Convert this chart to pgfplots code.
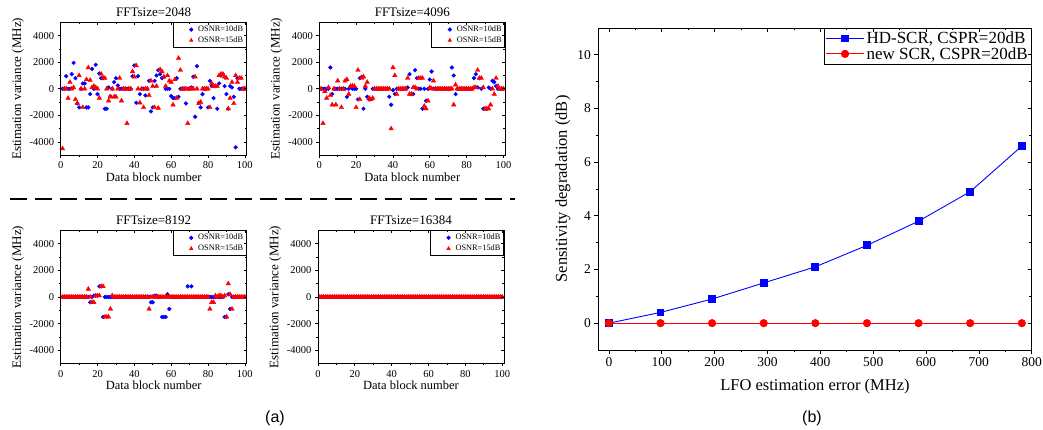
\documentclass[border=0pt]{standalone}
\usepackage{fontspec}
\setmainfont{Liberation Serif}
\newfontfamily\arial{Liberation Sans}
\usepackage{pgfplots}
\pgfplotsset{compat=1.18}

\definecolor{pblue}{rgb}{0,0,1}
\definecolor{pred}{rgb}{1,0,0}

\pgfplotsset{
  common/.style={
    scale only axis,
    axis line style={line width=0.8pt},
    every tick/.style={black, line width=0.7pt},
    /pgf/number format/assume math mode=true,
    /pgf/number format/1000 sep={},
    scaled ticks=false,
    minor x tick num=1, minor y tick num=1,
    tick pos=left, tick align=outside,
  },
  panel/.style={
    common,
    width=186pt, height=133pt,
    xmin=0, xmax=101, ymin=-5000, ymax=5000,
    xtick={0,20,...,100}, ytick={-4000,-2000,0,2000,4000},
    major tick length=3pt, minor tick length=2pt,
    ticklabel style={font=\fontsize{10.5}{11}\selectfont},
    xlabel={Data block number},
    ylabel={Estimation variance (MHz)},
    xlabel style={font=\fontsize{12.5}{14}\selectfont, yshift=3pt},
    ylabel style={font=\fontsize{13}{14}\selectfont, yshift=-1pt},
    title style={font=\fontsize{13}{14}\selectfont, yshift=-4pt},
    legend style={at={(rel axis cs:1,1)}, anchor=north east, draw=black,
      line width=0.9pt, font=\fontsize{8.3}{9}\selectfont,
      inner sep=1.2pt, row sep=-0.5pt, cells={anchor=west}},
    legend cell align=left,
    legend image code/.code={%
      \path[draw=none, fill=none] (0pt,0pt) -- (22pt,0pt);
      \path[#1, only marks, mark size=1.6pt] plot coordinates {(17pt,0pt)};},
  },
  mirror/.style={
    tick pos=right, tick align=inside,
    xticklabels={}, yticklabels={},
    xlabel={}, ylabel={}, title={},
  },
  bl/.style={draw=pblue, fill=pblue, mark=*, only marks, mark size=1.9pt},
  rd/.style={draw=pred, fill=pred, mark=triangle*, only marks, mark size=2.6pt},
}

\begin{document}
\begin{tikzpicture}[x=1pt,y=1pt]
\useasboundingbox (0,0) rectangle (1043,430);

% ---------------- FFTsize=2048
\begin{axis}[panel, at={(60.7pt,274.7pt)}, title={FFTsize=2048}]
\addplot[bl] coordinates {
(1,0)(2,0)(3,950)(4,0)(5,0)(6,1100)(7,1950)(8,800)(9,-1100)(10,-1400)
(11,0)(12,400)(13,400)(14,-1400)(15,-1400)(16,-400)(17,1500)(18,0)(19,1800)(20,-400)
(21,1150)(22,800)(23,800)(24,-1500)(25,-1500)(26,100)(27,-550)(28,0)(29,500)(30,800)
(31,250)(32,0)(33,0)(34,0)(35,0)(36,0)(37,0)(38,0)(39,950)(40,1750)
(41,-1050)(42,950)(43,-400)(44,0)(45,0)(46,-500)(47,0)(48,600)(49,-1700)(50,-1400)
(51,600)(52,1000)(53,1400)(54,1100)(55,800)(56,900)(57,0)(58,0)(59,0)(60,-550)
(61,-700)(62,-700)(63,800)(64,-600)(65,0)(66,0)(67,0)(68,-1100)(69,0)(70,0)
(71,100)(72,900)(73,-2100)(74,1700)(75,-1050)(76,-1400)(77,-400)(78,0)(79,0)(80,-1400)
(81,600)(82,200)(83,-700)(84,200)(85,-1500)(86,400)(87,1000)(88,1100)(89,200)(90,-400)
(91,-1500)(92,200)(93,100)(94,-600)(95,-4400)(96,800)(97,0)(98,0)(99,0)(100,0)
};
\addlegendentry{OSNR=10dB}
\addplot[rd] coordinates {
(1,-4500)(2,0)(3,0)(4,-700)(5,500)(6,0)(7,100)(8,-800)(9,-1100)(10,1000)
(11,0)(12,-1400)(13,0)(14,700)(15,1600)(16,650)(17,100)(18,200)(19,100)(20,0)
(21,-700)(22,1100)(23,800)(24,800)(25,0)(26,-900)(27,-600)(28,0)(29,-600)(30,-600)
(31,0)(32,800)(33,-900)(34,0)(35,0)(36,-2600)(37,0)(38,0)(39,1300)(40,900)
(41,1750)(42,0)(43,-1050)(44,0)(45,-1400)(46,0)(47,0)(48,-500)(49,600)(50,200)
(51,-1400)(52,200)(53,-1450)(54,1450)(55,1300)(56,900)(57,200)(58,1000)(59,600)(60,500)
(61,-1200)(62,700)(63,-700)(64,2300)(65,1400)(66,0)(67,0)(68,0)(69,-2600)(70,0)
(71,0)(72,0)(73,900)(74,0)(75,-1100)(76,-1000)(77,0)(78,0)(79,0)(80,0)
(81,-1400)(82,400)(83,200)(84,200)(85,200)(86,1000)(87,1100)(88,1100)(89,900)(90,800)
(91,-1500)(92,-700)(93,500)(94,-1100)(95,1000)(96,500)(97,800)(98,800)(99,0)(100,0)
};
\addlegendentry{OSNR=15dB}
\end{axis}
\begin{axis}[panel, mirror, at={(60.7pt,274.7pt)}]
\end{axis}

% ---------------- FFTsize=4096
\begin{axis}[panel, at={(319.3pt,274.7pt)}, title={FFTsize=4096}]
\addplot[bl] coordinates {
(1,0)(2,0)(3,0)(4,0)(5,0)(6,1600)(7,-400)(8,0)(9,0)(10,0)
(11,0)(12,0)(13,0)(14,0)(15,-600)(16,0)(17,200)(18,0)(19,0)(20,0)
(21,-800)(22,800)(23,900)(24,-1500)(25,0)(26,-600)(27,-800)(28,-800)(29,0)(30,0)
(31,0)(32,0)(33,0)(34,0)(35,0)(36,0)(37,0)(38,-600)(39,-1200)(40,-100)
(41,-400)(42,0)(43,0)(44,0)(45,0)(46,0)(47,0)(48,100)(49,1100)(50,-400)
(51,-400)(52,1400)(53,800)(54,0)(55,0)(56,-1500)(57,0)(58,-900)(59,0)(60,700)
(61,1300)(62,0)(63,0)(64,0)(65,0)(66,0)(67,0)(68,0)(69,0)(70,0)
(71,0)(72,1600)(73,1000)(74,-400)(75,0)(76,0)(77,0)(78,0)(79,0)(80,0)
(81,0)(82,0)(83,0)(84,800)(85,1100)(86,100)(87,800)(88,0)(89,-1500)(90,-1500)
(91,-1500)(92,100)(93,0)(94,600)(95,500)(96,200)(97,0)(98,0)(99,0)(100,0)
};
\addlegendentry{OSNR=10dB}
\addplot[rd] coordinates {
(1,0)(2,-2600)(3,-200)(4,-700)(5,100)(6,-500)(7,-1200)(8,0)(9,-1200)(10,600)
(11,0)(12,-1400)(13,0)(14,600)(15,700)(16,-400)(17,200)(18,200)(19,200)(20,-1400)
(21,1400)(22,-800)(23,800)(24,900)(25,200)(26,500)(27,-700)(28,-800)(29,-700)(30,0)
(31,0)(32,0)(33,0)(34,0)(35,0)(36,0)(37,0)(38,0)(39,-3000)(40,1600)
(41,1000)(42,-400)(43,0)(44,0)(45,0)(46,0)(47,0)(48,800)(49,-400)(50,-400)
(51,100)(52,100)(53,0)(54,800)(55,800)(56,800)(57,-1300)(58,-1500)(59,-900)(60,100)
(61,0)(62,600)(63,0)(64,0)(65,0)(66,0)(67,0)(68,0)(69,0)(70,0)
(71,0)(72,0)(73,-1200)(74,300)(75,0)(76,0)(77,0)(78,0)(79,0)(80,0)
(81,0)(82,0)(83,0)(84,100)(85,100)(86,1400)(87,800)(88,800)(89,100)(90,-1500)
(91,-1500)(92,-1500)(93,-1200)(94,0)(95,-400)(96,800)(97,200)(98,0)(99,0)(100,0)
};
\addlegendentry{OSNR=15dB}
\end{axis}
\begin{axis}[panel, mirror, at={(319.3pt,274.7pt)}]
\end{axis}

% ---------------- FFTsize=8192
\begin{axis}[panel, at={(60.7pt,66.5pt)}, title={FFTsize=8192}]
\addplot[bl] coordinates {
(1,0)(2,0)(3,0)(4,0)(5,0)(6,0)(7,0)(8,0)(9,0)(10,0)
(11,0)(12,0)(13,0)(14,0)(15,0)(16,-400)(17,0)(18,100)(19,100)(20,100)
(21,800)(22,800)(23,-1500)(24,0)(25,0)(26,0)(27,0)(28,0)(29,0)(30,0)
(31,0)(32,0)(33,0)(34,0)(35,0)(36,0)(37,0)(38,0)(39,0)(40,0)
(41,0)(42,0)(43,0)(44,0)(45,0)(46,0)(47,0)(48,0)(49,-400)(50,-400)
(51,100)(52,100)(53,0)(54,0)(55,-1500)(56,-1500)(57,-1500)(58,200)(59,-900)(60,0)
(61,0)(62,0)(63,0)(64,0)(65,0)(66,0)(67,0)(68,0)(69,800)(70,0)
(71,800)(72,0)(73,0)(74,0)(75,0)(76,0)(77,0)(78,0)(79,0)(80,0)
(81,0)(82,0)(83,0)(84,0)(85,0)(86,0)(87,0)(88,0)(89,-1500)(90,-1500)
(91,200)(92,-900)(93,0)(94,0)(95,0)(96,0)(97,0)(98,0)(99,0)(100,0)
};
\addlegendentry{OSNR=10dB}
\addplot[rd] coordinates {
(1,0)(2,0)(3,0)(4,0)(5,0)(6,0)(7,0)(8,0)(9,0)(10,0)
(11,0)(12,0)(13,0)(14,0)(15,600)(16,0)(17,-400)(18,-400)(19,100)(20,100)
(21,100)(22,800)(23,800)(24,-1500)(25,-1500)(26,-1500)(27,-900)(28,100)(29,0)(30,0)
(31,0)(32,0)(33,0)(34,0)(35,0)(36,0)(37,0)(38,0)(39,0)(40,0)
(41,0)(42,0)(43,0)(44,0)(45,0)(46,0)(47,0)(48,-900)(49,0)(50,0)
(51,0)(52,0)(53,0)(54,0)(55,0)(56,0)(57,0)(58,0)(59,0)(60,0)
(61,0)(62,0)(63,0)(64,0)(65,0)(66,0)(67,0)(68,0)(69,0)(70,0)
(71,0)(72,0)(73,0)(74,0)(75,0)(76,0)(77,0)(78,0)(79,0)(80,0)
(81,-900)(82,-400)(83,-400)(84,100)(85,0)(86,100)(87,100)(88,0)(89,100)(90,-1500)
(91,1000)(92,200)(93,-900)(94,0)(95,0)(96,0)(97,0)(98,0)(99,0)(100,0)
};
\addlegendentry{OSNR=15dB}
\end{axis}
\begin{axis}[panel, mirror, at={(60.7pt,66.5pt)}]
\end{axis}

% ---------------- FFTsize=16384
\begin{axis}[panel, at={(318pt,66.5pt)}, title={FFTsize=16384}]
\addplot[bl] coordinates {
(1,0)(2,0)(3,0)(4,0)(5,0)(6,0)(7,0)(8,0)(9,0)(10,0)
(11,0)(12,0)(13,0)(14,0)(15,0)(16,0)(17,0)(18,0)(19,0)(20,0)
(21,0)(22,0)(23,0)(24,0)(25,0)(26,0)(27,0)(28,0)(29,0)(30,0)
(31,0)(32,0)(33,0)(34,0)(35,0)(36,0)(37,0)(38,0)(39,0)(40,0)
(41,0)(42,0)(43,0)(44,0)(45,0)(46,0)(47,0)(48,0)(49,0)(50,0)
(51,0)(52,0)(53,0)(54,0)(55,0)(56,0)(57,0)(58,0)(59,0)(60,0)
(61,0)(62,0)(63,0)(64,0)(65,0)(66,0)(67,0)(68,0)(69,0)(70,0)
(71,0)(72,0)(73,0)(74,0)(75,0)(76,0)(77,0)(78,0)(79,0)(80,0)
(81,0)(82,0)(83,0)(84,0)(85,0)(86,0)(87,0)(88,0)(89,0)(90,0)
(91,0)(92,0)(93,0)(94,0)(95,0)(96,0)(97,0)(98,0)(99,0)(100,0)
};
\addlegendentry{OSNR=10dB}
\addplot[rd] coordinates {
(1,0)(2,0)(3,0)(4,0)(5,0)(6,0)(7,0)(8,0)(9,0)(10,0)
(11,0)(12,0)(13,0)(14,0)(15,0)(16,0)(17,0)(18,0)(19,0)(20,0)
(21,0)(22,0)(23,0)(24,0)(25,0)(26,0)(27,0)(28,0)(29,0)(30,0)
(31,0)(32,0)(33,0)(34,0)(35,0)(36,0)(37,0)(38,0)(39,0)(40,0)
(41,0)(42,0)(43,0)(44,0)(45,0)(46,0)(47,0)(48,0)(49,0)(50,0)
(51,0)(52,0)(53,0)(54,0)(55,0)(56,0)(57,0)(58,0)(59,0)(60,0)
(61,0)(62,0)(63,0)(64,0)(65,0)(66,0)(67,0)(68,0)(69,0)(70,0)
(71,0)(72,0)(73,0)(74,0)(75,0)(76,0)(77,0)(78,0)(79,0)(80,0)
(81,0)(82,0)(83,0)(84,0)(85,0)(86,0)(87,0)(88,0)(89,0)(90,0)
(91,0)(92,0)(93,0)(94,0)(95,0)(96,0)(97,0)(98,0)(99,0)(100,0)
};
\addlegendentry{OSNR=15dB}
\end{axis}
\begin{axis}[panel, mirror, at={(318pt,66.5pt)}]
\end{axis}

% ---------------- right panel (b)
\begin{axis}[common, at={(598.3pt,80pt)},
    width=433.4pt, height=322pt,
    xmin=-20, xmax=800, ymin=-1, ymax=11,
    xtick={0,100,...,800}, ytick={0,2,...,10},
    major tick length=4pt, minor tick length=2.5pt,
    ticklabel style={font=\fontsize{13.5}{15}\selectfont},
    xlabel={LFO estimation error (MHz)},
    ylabel={Sensitivity degradation (dB)},
    label style={font=\fontsize{16.5}{18}\selectfont},
    xlabel style={yshift=-6pt},
    legend style={at={(rel axis cs:1,1)}, anchor=north east, draw=black,
      line width=0.9pt, font=\fontsize{17}{18}\selectfont,
      inner sep=1.5pt, row sep=-2pt, cells={anchor=west}},
    legend cell align=left,
    legend image code/.code={%
      \draw[#1, line width=1pt] (0pt,0pt) -- (38pt,0pt);
      \draw[#1, line width=1pt, only marks] plot coordinates {(19pt,0pt)};},
  ]
\addplot[pblue, line width=0.9pt, mark=square*, mark size=3.4pt,
         mark options={fill=pblue}] coordinates {
(0,0)(97.7,0.4)(195.3,0.9)(293,1.5)(390.6,2.1)(488.3,2.9)(585.9,3.8)(683.6,4.9)(781.3,6.6)
};
\addlegendentry{HD-SCR, CSPR=20dB}
\addplot[pred, line width=0.9pt, mark=*, mark size=3.6pt,
         mark options={fill=pred}] coordinates {
(0,0)(97.7,0)(195.3,0)(293,0)(390.6,0)(488.3,0)(585.9,0)(683.6,0)(781.3,0)
};
\addlegendentry{new SCR, CSPR=20dB}
\end{axis}
\begin{axis}[common, mirror, at={(598.3pt,80pt)},
    width=433.4pt, height=322pt,
    xmin=-20, xmax=800, ymin=-1, ymax=11,
    xtick={0,100,...,800}, ytick={0,2,...,10},
    major tick length=4pt, minor tick length=2.5pt]
\end{axis}

% separator and panel letters
\draw[line width=2.6pt, dash pattern=on 17pt off 8pt] (10,231) -- (515,231);
\node[font=\arial\fontsize{16}{18}\selectfont] at (275,12) {(a)};
\node[font=\arial\fontsize{16}{18}\selectfont] at (812,12) {(b)};
\end{tikzpicture}
\end{document}
